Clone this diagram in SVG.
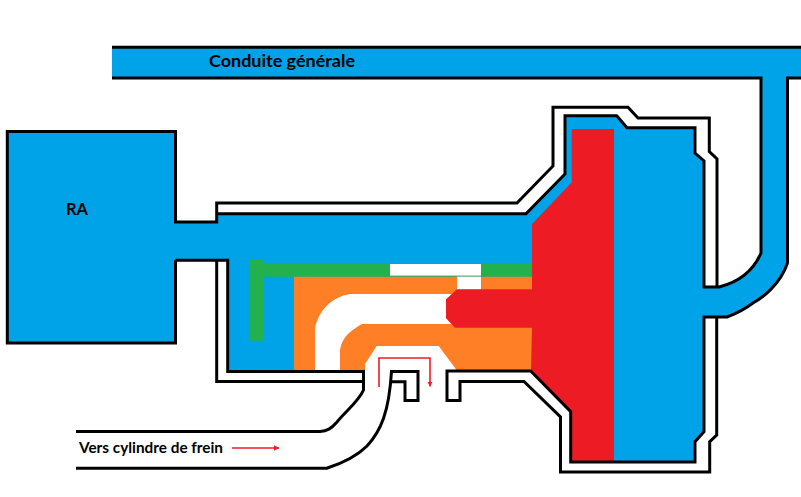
<svg xmlns="http://www.w3.org/2000/svg" width="801" height="497" viewBox="0 0 801 497">
<defs>
<style>
.wall{fill:none;stroke:#000;stroke-width:3;stroke-linejoin:miter}
.red{fill:none;stroke:#ED1C24;stroke-width:1.6}
text{font-family:"Lato","Liberation Sans",sans-serif;font-weight:700;fill:#000}
</style>
<marker id="tip" markerUnits="userSpaceOnUse" markerWidth="6" markerHeight="6" refX="5" refY="3" orient="auto"><path d="M0,0.3L5,3L0,5.7Z" fill="#ED1C24"/></marker>
</defs>
<rect width="801" height="497" fill="#fff"/>
<g id="air">
<path fill="#00A2E8" d="M7,131.5H175.5V222H216.7V213.7H526L565,174V115.7H616.7L627,127.7H695V153L704,161V287H719C735,283 752,274 761,253V78H112V47H801V78H787.5V263C780,285 762,298 753,303C745,309 735,314 727,317H704V431.7L695,441.7V462H570.7V411.7L530.7,370.7H227.7V260H175.5V343H7Z"/>
</g>
<g id="valve">
<path fill="#22B14C" d="M250,259.5H264V263.5H532V276.7H264V340.7H250Z"/>
<rect x="390" y="264" width="91" height="11.6" fill="#fff"/>
<path fill="#FF7F27" d="M294,276.7H532V370H294Z"/>
<path fill="#fff" d="M315,370V328C319,310 332,297 350,294H460V324H361.7C352,330 342,336 340,350V370Z"/>
<rect x="457" y="276.7" width="24" height="13" fill="#fff"/>
<path fill="#fff" d="M365,372V364L376.7,346H438.7L458,372Z"/>
</g>
<g id="piston">
<path fill="#ED1C24" d="M571.7,129H614V462H571V412L531,371L532,327.7H455L446,318.3V299.3L457,289.3H532V224L571.7,182.5Z"/>
</g>
<g id="connectors">
<path class="wall" d="M175.5,260.3V343H7.3V131.5H175.5V222H216.7V203H517L553,166V107.3H628L638,118H709.3V151.7L717,159V287"/>
<path class="wall" d="M216.7,213.7H526L565,174V115.7H616.7L627,127.7H695V153L704,161V287H719C735,283 752,274 761,253V78H112"/>
<path class="wall" d="M112,47.3H801"/>
<path class="wall" d="M801,78H787.5V263C780,285 762,298 753,303C745,309 735,314 727,317H704V431.7L695,441.7V462H570.7V411.7L530.7,371H447V400.5H460V381.5H524L560.5,417V472H709.7V441.7L716.7,435V317"/>
<path class="wall" d="M175.5,260.3H227.7V371.5H363.5V390C359,401 345,412 337,422C331,429 327,431 320,431.5H76"/>
<path class="wall" d="M216.7,260V381.5H363"/>
<path class="wall" d="M76,468.3H326.7C343,463 357,456 367,446C381,431 389,412 391.5,371.5H418V400.5H405V381.7H392"/>
<path class="red" d="M379,387V358H430V386.5" marker-end="url(#tip)"/>
<path class="red" d="M232,448H279" marker-end="url(#tip)"/>
</g>
<g id="labels">
<text x="209" y="66.5" font-size="17" textLength="146" lengthAdjust="spacingAndGlyphs">Conduite générale</text>
<text x="66" y="215" font-size="17" textLength="22" lengthAdjust="spacingAndGlyphs">RA</text>
<text x="79" y="452.5" font-size="15" textLength="144" lengthAdjust="spacingAndGlyphs">Vers cylindre de frein</text>
</g>
</svg>
